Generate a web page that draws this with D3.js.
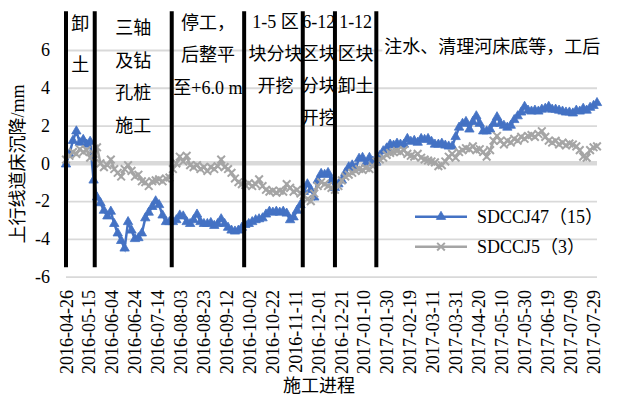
<!DOCTYPE html>
<html>
<head>
<meta charset="utf-8">
<script src="https://cdn.jsdelivr.net/npm/d3@7"></script>
<style>
  html, body { margin: 0; padding: 0; background: #fff; }
  svg { display: block; }
  svg text {
    font-family: "Liberation Serif", "Tinos", "Times New Roman", "DejaVu Serif", "Noto Sans CJK SC", serif;
    font-size: 18px;
    fill: #000;
  }
</style>
</head>
<body>
<svg id="chart" width="619" height="396"></svg>
<script>
// ---- data -------------------------------------------------------------
// Settlement readings (mm), sampled every 3 days from the first survey date.
const startDate = "2016-04-26";
const stepDays = 3;
const axisEndDate = "2017-08-01";

const sdccj47 = [
  -0.05, 0.5, 1.2, 1.7, 1.1, 1.25, 1.0, 1.15, -0.9, -1.8,
  -2.1, -2.5, -2.8, -2.55, -3.2, -3.7, -4.1, -4.5, -3.1, -3.55,
  -4.0, -3.95, -3.7, -2.9, -2.6, -2.3, -2.0, -2.2, -2.75, -3.1,
  -3.1, -3.1, -3.0, -2.75, -2.8, -3.1, -3.2, -3.0, -2.7, -3.1,
  -3.2, -3.2, -3.15, -3.3, -3.2, -2.95, -3.2, -3.4, -3.55, -3.6,
  -3.55, -3.4, -3.25, -3.2, -3.1, -3.0, -2.95, -2.9, -2.7, -2.55,
  -2.6, -2.55, -2.6, -2.55, -2.65, -3.0, -2.85, -2.5, -2.2, -1.5,
  -1.1, -1.4, -1.8, -0.9, -0.55, -0.6, -0.5, -0.9, -1.3, -1.1,
  -0.9, -0.5, -0.2, -0.1, -0.25, 0.25, 0.3, 0.0, 0.3, 0.1,
  0.05, 0.4, 0.65, 0.8, 1.0, 0.95, 1.05, 1.0, 1.0, 1.3,
  1.15, 1.2, 1.1, 1.3, 1.25, 1.3, 1.15, 1.0, 1.0, 1.05,
  0.95, 0.9, 0.9, 1.4, 1.9, 2.1, 2.2, 1.8, 2.2, 2.5,
  2.1, 1.7, 1.7, 1.8, 2.1, 2.45, 2.1, 2.0, 1.9, 2.0,
  2.3, 2.5, 2.7, 3.0, 2.8, 2.75, 2.8, 2.75, 2.85, 2.9,
  3.0, 2.85, 2.85, 2.8, 2.75, 2.7, 2.7, 2.65, 2.8, 2.75,
  2.9, 2.8, 2.95, 3.05, 3.2
];

const sdccj5 = [
  0.2, 0.4, 0.6, 0.5, 0.75, 0.6, 0.7, 0.3, 0.5, 0.85,
  0.0, -0.2, -0.1, 0.2, -0.3, -0.5, -0.7, -0.3, -0.1, -0.4,
  -0.7, -0.6, -0.95, -1.0, -1.2, -0.95, -0.9, -0.85, -0.95, -0.8,
  -0.75, -0.3, 0.0, 0.35, 0.1, 0.4, -0.1, -0.2, -0.1, -0.3,
  -0.2, -0.4, -0.2, -0.3, -0.15, 0.2, -0.2, -0.3, -0.5, -0.8,
  -1.0, -1.1, -1.15, -1.05, -1.2, -1.1, -0.85, -1.2, -1.4, -1.5,
  -1.45, -1.55, -1.45, -1.5, -1.1, -1.3, -1.5, -1.4, -1.6, -1.7,
  -1.9, -2.0, -1.6, -1.2, -1.0, -1.1, -1.2, -1.3, -1.4, -1.2,
  -0.9, -0.7, -0.6, -0.5, -0.4, -0.3, -0.35, -0.25, -0.3, -0.15,
  0.1, 0.2, 0.3, 0.45, 0.55, 0.6, 0.65, 0.6, 0.7, 0.5,
  0.4, 0.35, 0.5, 0.3, 0.2, 0.15, 0.1, 0.05, -0.15, -0.1,
  0.1, 0.35, 0.5, 0.3, 0.6, 0.7, 0.8, 0.75, 0.9, 0.7,
  0.75, 0.6, 0.35, 0.7, 1.2, 1.45, 1.2, 1.0, 1.2, 1.1,
  1.3, 1.2, 1.4, 1.3, 1.45, 1.5, 1.4, 1.55, 1.7, 1.4,
  1.2, 1.1, 1.2, 1.0, 1.1, 0.95, 1.05, 1.0, 0.9, 0.7,
  0.35, 0.3, 0.7, 0.85, 0.9
];

const seriesNames = ["SDCCJ47（15）", "SDCCJ5（3）"];

const tickDates = [
  "2016-04-26", "2016-05-15", "2016-06-04", "2016-06-24", "2016-07-14",
  "2016-08-03", "2016-08-23", "2016-09-12", "2016-10-02", "2016-10-22",
  "2016-11-11", "2016-12-01", "2016-12-21", "2017-01-10", "2017-01-30",
  "2017-02-19", "2017-03-11", "2017-03-31", "2017-04-20", "2017-05-10",
  "2017-05-30", "2017-06-19", "2017-07-09", "2017-07-29"
];
const yTicks = [-6, -4, -2, 0, 2, 4, 6];

// Construction stage boundaries and the notes written between them
const phaseDates = ["2016-04-26", "2016-05-21", "2016-07-27", "2016-09-28",
                    "2016-11-18", "2016-12-16", "2017-01-21"];
const phaseNotes = [
  ["卸", "土"],
  ["三轴", "及钻", "孔桩", "施工"],
  ["停工，", "后整平", "至+6.0 m"],
  ["1-5 区", "块分块", "开挖"],
  ["6-12", "区块", "分块", "开挖"],
  ["1-12", "区块", "卸土"]
];
const finalNote = "注水、清理河床底等，工后";

const yTitle = "上行线道床沉降/mm";
const xTitle = "施工进程";

// ---- layout -----------------------------------------------------------
const BLUE = "#4472C4", GRAY = "#A5A5A5", GRID = "#D9D9D9";
const L = 66, R = 597, TOP = 12.2, BOT = 276.7;

const parse = d3.utcParse("%Y-%m-%d");
const t0 = parse(startDate);
const dates = sdccj47.map((_, i) => d3.utcDay.offset(t0, i * stepDays));

const x = d3.scaleUtc().domain([t0, parse(axisEndDate)]).range([L, R]);
const y = d3.scaleLinear().domain([-6, 8]).range([BOT, TOP]);

const svg = d3.select("#chart");
svg.append("rect").attr("width", 619).attr("height", 396).attr("fill", "#fff");

// y axis with horizontal gridlines
svg.append("g")
  .attr("transform", `translate(${L},0)`)
  .call(d3.axisLeft(y).tickValues(yTicks).tickSize(-(R - L)).tickPadding(16)
        .tickFormat(d => String(d)))
  .attr("font-family", null).attr("font-size", null)
  .call(g => g.select(".domain").remove())
  .call(g => g.selectAll(".tick line").attr("stroke", GRID).attr("stroke-width", 1.8));

// emphasised zero line
svg.append("line")
  .attr("x1", L).attr("x2", R).attr("y1", y(0)).attr("y2", y(0))
  .attr("stroke", GRID).attr("stroke-width", 4.5);

// x axis: rotated date labels
svg.append("g")
  .attr("transform", `translate(0,${BOT})`)
  .call(d3.axisBottom(x).tickValues(tickDates.map(parse)).tickSize(0)
        .tickFormat(d3.utcFormat("%Y-%m-%d")))
  .attr("font-family", null).attr("font-size", null)
  .call(g => g.select(".domain").remove())
  .call(g => g.selectAll(".tick text")
        .attr("x", 0).attr("y", 0).attr("dy", "0.35em")
        .attr("text-anchor", "end")
        .attr("transform", "translate(0,13.3) rotate(-90)"));

// series
const line = d3.line().x((d, i) => x(dates[i])).y(d => y(d));

const blue = svg.append("g");
blue.append("path").datum(sdccj47).attr("d", line)
  .attr("fill", "none").attr("stroke", BLUE).attr("stroke-width", 2.5);
blue.selectAll("path.m").data(sdccj47).join("path").attr("class", "m")
  .attr("d", d3.symbol(d3.symbolTriangle, 38))
  .attr("transform", (d, i) => `translate(${x(dates[i])},${y(d)})`)
  .attr("fill", BLUE).attr("stroke", BLUE).attr("stroke-width", 0.8);

const gray = svg.append("g");
gray.append("path").datum(sdccj5).attr("d", line)
  .attr("fill", "none").attr("stroke", GRAY).attr("stroke-width", 2.5);
gray.selectAll("path.m").data(sdccj5).join("path").attr("class", "m")
  .attr("d", d3.symbol(d3.symbolX, 40))
  .attr("transform", (d, i) => `translate(${x(dates[i])},${y(d)})`)
  .attr("fill", "none").attr("stroke", GRAY).attr("stroke-width", 2);

// stage boundary lines
svg.append("g").selectAll("line").data(phaseDates.map(parse)).join("line")
  .attr("x1", d => x(d)).attr("x2", d => x(d))
  .attr("y1", y(8.05)).attr("y2", y(-5.5))
  .attr("stroke", "#000").attr("stroke-width", 4);

// stage notes, centred between boundary lines
const noteRows = [
  { top: 23.5, gap: 41.5 },
  { top: 27.5, gap: 32.8 },
  { top: 22.5, gap: 32.5 },
  { top: 22, gap: 32 },
  { top: 22, gap: 32 },
  { top: 22, gap: 32 }
];
const notes = svg.append("g");
phaseNotes.forEach((lines, k) => {
  const cx = (x(parse(phaseDates[k])) + x(parse(phaseDates[k + 1]))) / 2 + (k === 3 ? 2 : 0);
  lines.forEach((t, j) => {
    notes.append("text")
      .attr("x", cx).attr("y", noteRows[k].top + j * noteRows[k].gap)
      .attr("dy", "0.35em").attr("text-anchor", "middle").text(t);
  });
});
const lastX = x(parse(phaseDates[phaseDates.length - 1]));
notes.append("rect").attr("x", lastX + 6).attr("y", 37).attr("width", 226).attr("height", 20)
  .attr("fill", "#fff");
notes.append("text").attr("x", lastX + 8).attr("y", 46.5).attr("dy", "0.35em")
  .text(finalNote);

// legend
const legend = svg.append("g");
const legendRows = [
  { name: seriesNames[0], color: BLUE, sym: d3.symbolTriangle, size: 38, fill: BLUE, y: 216.7 },
  { name: seriesNames[1], color: GRAY, sym: d3.symbolX, size: 40, fill: "none", y: 246.7 }
];
legendRows.forEach(r => {
  legend.append("line").attr("x1", 415).attr("x2", 467).attr("y1", r.y).attr("y2", r.y)
    .attr("stroke", r.color).attr("stroke-width", 2.5);
  legend.append("path").attr("d", d3.symbol(r.sym, r.size))
    .attr("transform", `translate(441,${r.y})`)
    .attr("fill", r.fill).attr("stroke", r.color).attr("stroke-width", r.fill === "none" ? 2 : 0.8);
  legend.append("text").attr("x", 477).attr("y", r.y).attr("dy", "0.35em").text(r.name);
});

// axis titles
svg.append("text")
  .attr("transform", "translate(18,164) rotate(-90)")
  .attr("text-anchor", "middle").attr("dy", "0.35em").text(yTitle);
svg.append("text")
  .attr("x", 319).attr("y", 386).attr("text-anchor", "middle").attr("dy", "0.35em")
  .text(xTitle);
</script>
</body>
</html>
